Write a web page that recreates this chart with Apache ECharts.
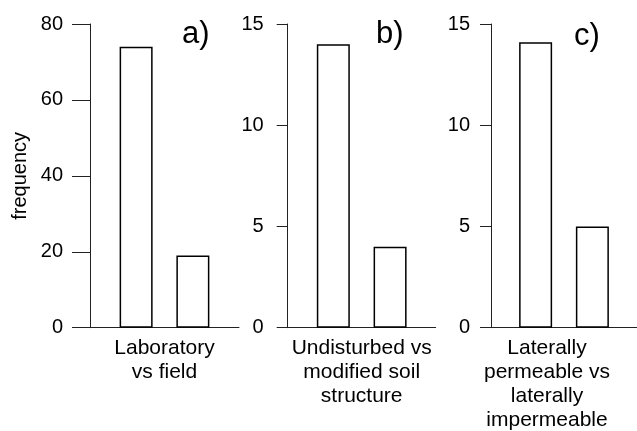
<!DOCTYPE html>
<html>
<head>
<meta charset="utf-8">
<script src="https://cdn.jsdelivr.net/npm/echarts@6/dist/echarts.min.js"></script>
<style>
html,body{margin:0;padding:0;background:#fff;}
#chart{width:637px;height:431px;}
</style>
</head>
<body>
<div id="chart"></div>
<script>
// Data
const panelLabels = ['a)', 'b)', 'c)'];
const comparisonLabels = ['Laboratory\nvs field', 'Undisturbed vs\nmodified soil\nstructure', 'Laterally\npermeable vs\nlaterally\nimpermeable'];
const firstGroupNames = ['Laboratory', 'Undisturbed', 'Laterally permeable'];
const secondGroupNames = ['Field', 'Modified soil structure', 'Laterally impermeable'];
const firstGroupValues = [74, 14, 14.1];
const secondGroupValues = [19, 4, 5];
const yMax = [80, 15, 15];
const yInterval = [20, 5, 5];
const yTitle = 'frequency';

const FONT = "'Liberation Sans', Arial, sans-serif";
const grids = [
  {left: 90, top: 24, width: 149, bottom: 103.3},
  {left: 287.7, top: 24, width: 148, bottom: 103.3},
  {left: 491, top: 24, width: 146, bottom: 103.3}
].map(g => Object.assign(g, {containLabel: false, outerBoundsMode: 'none'}));
const tickLen = [18, 11, 11];
const labelMargin = [27, 24, 21];
const catPadding = [[0,0,0,0],[0,0,0,0],[0,34,0,0]];
const titlePos = [{left: 182, top: 19}, {left: 376, top: 19}, {left: 574, top: 21}];

const xAxes = [], yAxes = [], series = [], titles = [];
for (let i = 0; i < 3; i++) {
  xAxes.push({
    type: 'category', gridIndex: i, data: [comparisonLabels[i]],
    axisLine: {show: true, lineStyle: {color: '#222', width: 1}},
    axisTick: {show: false},
    axisLabel: {color: '#000', fontFamily: FONT, fontSize: 21, lineHeight: 24, margin: 9,
      padding: catPadding[i], interval: 0, hideOverlap: false}
  });
  yAxes.push({
    type: 'value', gridIndex: i, min: 0, max: yMax[i], interval: yInterval[i],
    name: i === 0 ? yTitle : '', nameLocation: 'middle', nameGap: 60,
    nameTextStyle: {color: '#000', fontFamily: FONT, fontSize: 20},
    splitLine: {show: false},
    axisLine: {show: true, lineStyle: {color: '#222', width: 1}},
    axisTick: {show: true, length: tickLen[i], lineStyle: {color: '#222', width: 1}},
    axisLabel: {color: '#000', fontFamily: FONT, fontSize: 20, margin: labelMargin[i]}
  });
  const barStyle = {color: '#fff', borderColor: '#000', borderWidth: 1.5};
  series.push({
    type: 'bar', name: firstGroupNames[i], xAxisIndex: i, yAxisIndex: i,
    data: [firstGroupValues[i]], barWidth: 33, barGap: '72%',
    itemStyle: barStyle, silent: true
  });
  series.push({
    type: 'bar', name: secondGroupNames[i], xAxisIndex: i, yAxisIndex: i,
    data: [secondGroupValues[i]], barWidth: 33, barGap: '72%',
    itemStyle: barStyle, silent: true
  });
  titles.push({
    text: panelLabels[i], left: titlePos[i].left, top: titlePos[i].top, padding: 0,
    textStyle: {color: '#000', fontFamily: FONT, fontSize: 31, fontWeight: 'normal'}
  });
}

const chart = echarts.init(document.getElementById('chart'), null, {renderer: 'canvas'});
chart.setOption({
  animation: false,
  backgroundColor: '#fff',
  title: titles,
  grid: grids,
  xAxis: xAxes,
  yAxis: yAxes,
  series: series
});
</script>
</body>
</html>
